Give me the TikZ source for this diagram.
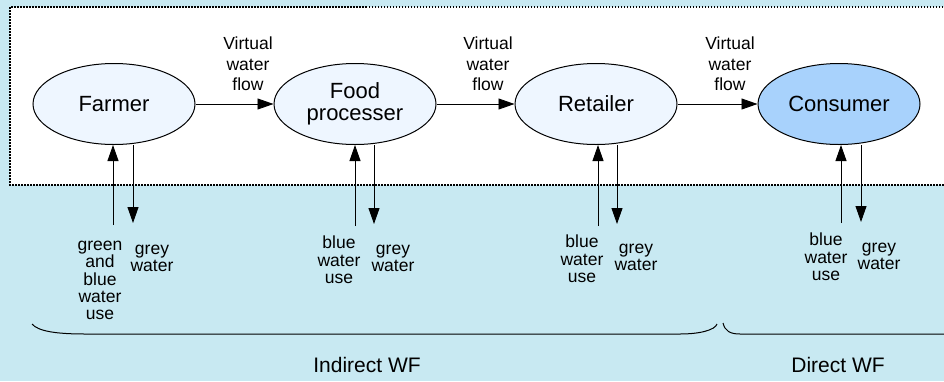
\documentclass[tikz,border=0pt]{standalone}
\usepackage{fontspec}
\setmainfont{Liberation Sans}
\usetikzlibrary{arrows.meta,shapes.geometric}
\definecolor{bgblue}{RGB}{200,233,242}
\definecolor{lightfill}{RGB}{238,246,255}
\definecolor{consfill}{RGB}{168,210,252}
\begin{document}
\begin{tikzpicture}[x=1pt,y=-1pt,
  actor/.style={ellipse,draw,line width=1pt,minimum width=162pt,minimum height=81pt,inner sep=0pt,align=center,font=\fontsize{22}{22}\selectfont},
  flowlbl/.style={align=center,inner sep=0pt,anchor=north,font=\fontsize{17.5}{20.5}\selectfont},
  uselbl/.style={align=center,inner sep=0pt,anchor=north,font=\fontsize{17.5}{17.3}\selectfont},
  arr/.style={-{Triangle[length=16pt,width=11pt]},line width=0.9pt},
  wflbl/.style={anchor=base,inner sep=0pt,font=\fontsize{21}{21}\selectfont},
  bracepath/.style={line width=1pt}]
\useasboundingbox (0,0) rectangle (944,381);
\clip (0,0) rectangle (944,381);
\fill[bgblue] (0,0) rectangle (944,381);
\draw[fill=white,line width=1.5pt,dash pattern=on 1.5pt off 1.5pt] (10,7) rectangle (960,185);

\node[actor,fill=lightfill] (farmer) at (114,104) {Farmer};
\node[actor,fill=lightfill] (food) at (355,104) {Food\\processer};
\node[actor,fill=lightfill] (retailer) at (596,104) {Retailer};
\node[actor,fill=consfill] (consumer) at (839,104) {Consumer};

\draw[arr] (farmer) -- (food);
\draw[arr] (food) -- (retailer);
\draw[arr] (retailer) -- (consumer);

\node[flowlbl] (vw1) at (248,37) {Virtual\\water\\flow};
\node[flowlbl] (vw2) at (488,37) {Virtual\\water\\flow};
\node[flowlbl] (vw3) at (730,37) {Virtual\\water\\flow};

\coordinate (fa-in) at (113,225);
\coordinate (fa-out) at (133,223);
\coordinate (fo-in) at (355,226);
\coordinate (fo-out) at (374,224);
\coordinate (re-in) at (598,226);
\coordinate (re-out) at (617,224);
\coordinate (co-in) at (841,223);
\coordinate (co-out) at (861,222);

\draw[arr] (fa-in) -- (fa-in |- farmer.south);
\draw[arr] (fa-out |- farmer.south) -- (fa-out);
\draw[arr] (fo-in) -- (fo-in |- food.south);
\draw[arr] (fo-out |- food.south) -- (fo-out);
\draw[arr] (re-in) -- (re-in |- retailer.south);
\draw[arr] (re-out |- retailer.south) -- (re-out);
\draw[arr] (co-in) -- (co-in |- consumer.south);
\draw[arr] (co-out |- consumer.south) -- (co-out);

\node[uselbl] (fa-use) at (100,241) {green\\and\\blue\\water\\use};
\node[uselbl] (fa-grey) at (152,245) {grey\\water};
\node[uselbl] (fo-use) at (339,236) {blue\\water\\use};
\node[uselbl] (fo-grey) at (393,245) {grey\\water};
\node[uselbl] (re-use) at (582,235) {blue\\water\\use};
\node[uselbl] (re-grey) at (636,244) {grey\\water};
\node[uselbl] (co-use) at (826,233) {blue\\water\\use};
\node[uselbl] (co-grey) at (879,243) {grey\\water};

\draw[bracepath] (32,324) .. controls (38,331) and (55,334) .. (85,334) -- (680,334) .. controls (700,334) and (715,330) .. (717,324);
\draw[bracepath] (723,323) .. controls (725,331) and (730,334) .. (740,334) -- (960,334);

\node[wflbl] (indirect) at (367,372.5) {Indirect WF};
\node[wflbl] (direct) at (838,372.5) {Direct WF};
\end{tikzpicture}
\end{document}
